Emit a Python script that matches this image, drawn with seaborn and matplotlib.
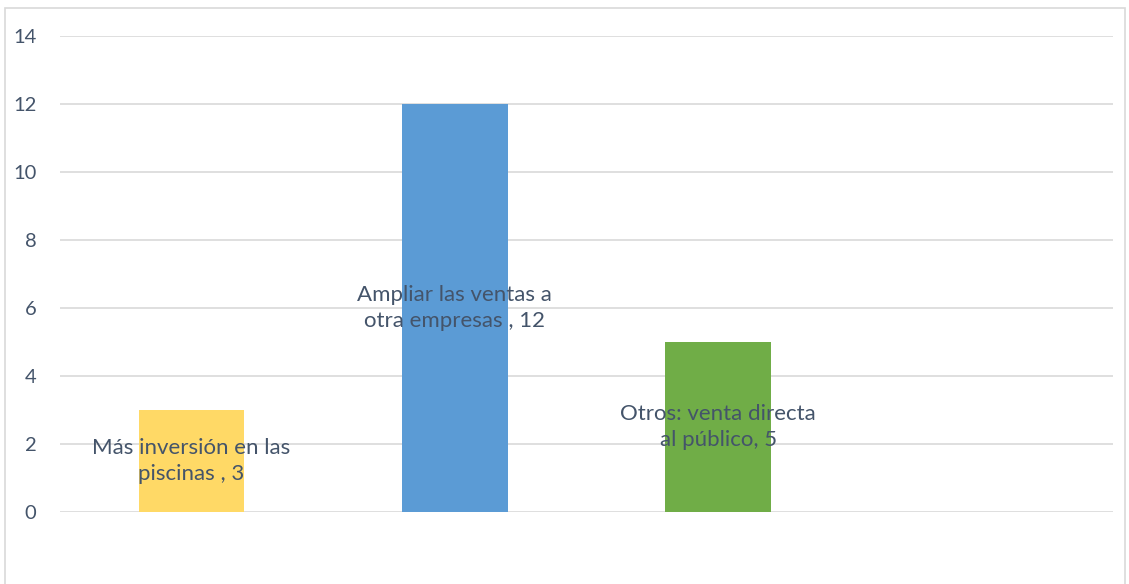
import matplotlib
matplotlib.use("Agg")
import matplotlib.pyplot as plt
import seaborn as sns
import pandas as pd
from matplotlib.patches import Rectangle

categories = ["Más inversión en las\npiscinas", "Ampliar las ventas a\notra empresas ", "Otros: venta directa\nal público"]
values = [3, 12, 5]
colors = ["#FFD966", "#5B9BD5", "#70AD47"]
label_texts = ["Más inversión en las\npiscinas , 3", "Ampliar las ventas a\notra empresas , 12", "Otros: venta directa\nal público, 5"]
yticks = [0, 2, 4, 6, 8, 10, 12, 14]

sns.set_theme(style="white")
plt.rcParams['font.family'] = ['Lato', 'DejaVu Sans']

fig = plt.figure(figsize=(11.29, 5.84), dpi=100)
ax = fig.add_axes([60/1129, 72/584, (1113-60)/1129, (512-36)/584])

df = pd.DataFrame({"cat": categories, "val": values})
sns.barplot(data=df, x="cat", y="val", hue="cat", palette=colors, legend=False,
            width=0.4, ax=ax, saturation=1, zorder=3, linewidth=0)

ax.set_xlim(-0.5, 3.5)
ax.set_ylim(0, 14)
ax.set_yticks(yticks)
ax.set_yticklabels([str(t) for t in yticks], color="#44546A", fontsize=14.5)
ax.tick_params(axis="y", length=0, pad=17)
ax.set_xticks([])
ax.set_xlabel("")
ax.set_ylabel("")
for s in ax.spines.values():
    s.set_visible(False)
ax.yaxis.grid(True, color="#D9D9D9", linewidth=1.2, zorder=0)
ax.set_axisbelow(True)

for i, (v, t) in enumerate(zip(values, label_texts)):
    ax.text(i, v / 2, t, ha="center", va="center", color="#44546A",
            fontsize=16, linespacing=1.42, zorder=5)

fig.patches.append(Rectangle((5/1129, -0.05), (1125-5)/1129, (584-8)/584 + 0.05,
                             transform=fig.transFigure, fill=False,
                             edgecolor="#D9D9D9", linewidth=1.2))

fig.savefig("out.png", dpi=100)
